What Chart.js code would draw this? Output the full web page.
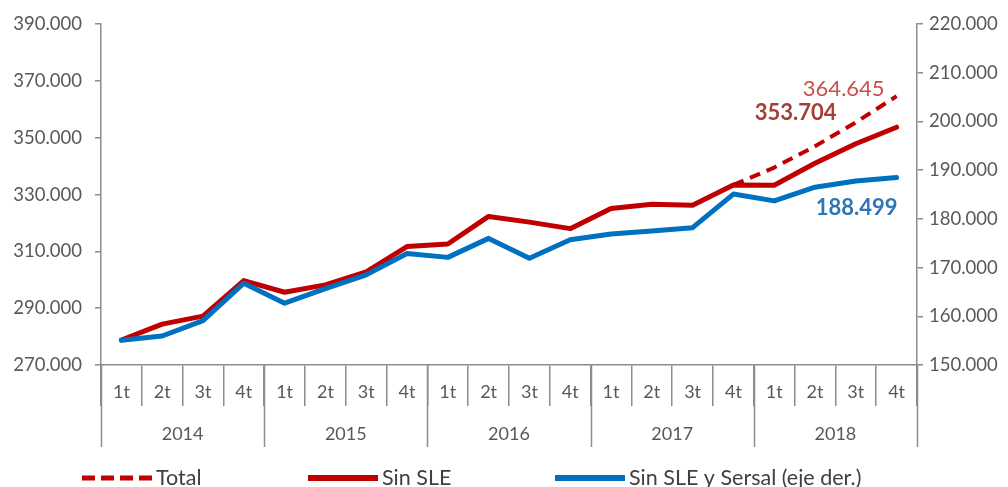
<!DOCTYPE html>
<html>
<head>
<meta charset="utf-8">
<script src="https://cdn.jsdelivr.net/npm/chart.js@4.4.1/dist/chart.umd.min.js"></script>
<style>
  html, body { margin: 0; padding: 0; background: #fff; }
  canvas { display: block; }
</style>
</head>
<body>
<canvas id="chart" width="1008" height="487"></canvas>
<script>
// data
const years = ['2014', '2015', '2016', '2017', '2018'];
const quarters = ['1t', '2t', '3t', '4t'];
const categories = years.flatMap(y => quarters.map(q => q + ' ' + y));

const sinSLE = [278800, 284400, 287200, 299700, 295600, 298200, 302800, 311700,
	312600, 322300, 320300, 318000, 325100, 326600, 326200, 333400,
	333300, 341000, 347900, 353704];
const total = [null, null, null, null, null, null, null, null,
	null, null, null, null, null, null, null, 333400,
	339500, 347000, 355400, 364645];
const sinSLESersal = [155100, 155950, 159100, 166800, 162700, 165700, 168500, 172900,
	172100, 176000, 171900, 175700, 176900, 177500, 178200, 185100,
	183700, 186500, 187800, 188499];

const leftTicks = { min: 270000, max: 390000, step: 20000 };
const rightTicks = { min: 150000, max: 220000, step: 10000 };

const RED = '#C00000';
const BLUE = '#0070C0';
const AXIS = '#8C8C8C';
const TICK_TEXT = '#595959';

Chart.defaults.font.family = 'Lato';

function fmt(v) {
	return String(v).replace(/\B(?=(\d{3})+(?!\d))/g, '.');
}

// quarter / year labels under the x axis + year separators
const categoryAxis = {
	id: 'categoryAxis',
	afterDraw(chart) {
		const ctx = chart.ctx;
		const x = chart.scales.x;
		const area = chart.chartArea;
		const band = (area.right - area.left) / categories.length;
		ctx.save();
		ctx.fillStyle = TICK_TEXT;
		ctx.textAlign = 'center';
		ctx.textBaseline = 'middle';
		ctx.font = '18px Lato';
		categories.forEach((c, i) => {
			ctx.fillText(quarters[i % 4], x.getPixelForValue(i), area.bottom + 27);
		});
		ctx.strokeStyle = AXIS;
		ctx.lineWidth = 1.5;
		years.forEach((y, k) => {
			const a = x.getPixelForValue(k * 4);
			const b = x.getPixelForValue(k * 4 + 3);
			ctx.fillText(y, (a + b) / 2, area.bottom + 69);
			const edge = Math.round(a - band / 2) + 0.5;
			ctx.beginPath();
			ctx.moveTo(edge, area.bottom);
			ctx.lineTo(edge, area.bottom + 82);
			ctx.stroke();
		});
		const last = Math.round(area.right) + 0.5;
		ctx.beginPath();
		ctx.moveTo(last, area.bottom);
		ctx.lineTo(last, area.bottom + 82);
		ctx.stroke();
		ctx.restore();
	}
};

// end-of-series value labels
const endLabels = {
	id: 'endLabels',
	afterDatasetsDraw(chart) {
		const ctx = chart.ctx;
		const n = categories.length - 1;
		const pTotal = chart.getDatasetMeta(1).data[n];
		const pSin = chart.getDatasetMeta(0).data[n];
		const pSer = chart.getDatasetMeta(2).data[n];
		ctx.save();
		ctx.textAlign = 'right';
		ctx.textBaseline = 'middle';
		ctx.font = '22px Lato';
		ctx.fillStyle = '#C9504B';
		ctx.fillText(fmt(total[n]), pTotal.x - 12, pTotal.y - 7);
		ctx.font = 'bold 22px Lato';
		ctx.fillStyle = '#A53F36';
		ctx.fillText(fmt(sinSLE[n]), pSin.x - 60, pSin.y - 14);
		ctx.fillStyle = '#2E75B6';
		ctx.fillText(fmt(sinSLESersal[n]), pSer.x + 1, pSer.y + 30);
		ctx.restore();
	}
};

// legend row at the bottom
const bottomLegend = {
	id: 'bottomLegend',
	afterDraw(chart) {
		const ctx = chart.ctx;
		const y = 478;
		const items = [
			{ x0: 82, x1: 152, color: RED, width: 5, dash: [13, 6], text: 'Total' },
			{ x0: 308, x1: 378, color: RED, width: 6, dash: [], text: 'Sin SLE' },
			{ x0: 555, x1: 625, color: BLUE, width: 6, dash: [], text: 'Sin SLE y Sersal (eje der.)' }
		];
		ctx.save();
		ctx.font = '21.5px Lato';
		ctx.textBaseline = 'middle';
		ctx.textAlign = 'left';
		items.forEach(it => {
			ctx.beginPath();
			ctx.setLineDash(it.dash);
			ctx.strokeStyle = it.color;
			ctx.lineWidth = it.width;
			ctx.moveTo(it.x0, y);
			ctx.lineTo(it.x1, y);
			ctx.stroke();
			ctx.setLineDash([]);
			ctx.fillStyle = '#404040';
			ctx.fillText(it.text, it.x1 + 4, y);
		});
		ctx.restore();
	}
};

new Chart(document.getElementById('chart'), {
	type: 'line',
	data: {
		labels: categories,
		datasets: [
			{
				label: 'Sin SLE',
				data: sinSLE,
				yAxisID: 'y',
				borderColor: RED,
				borderWidth: 5,
				order: 2
			},
			{
				label: 'Total',
				data: total,
				yAxisID: 'y',
				borderColor: RED,
				borderWidth: 4,
				borderDash: [11, 7],
				borderCapStyle: 'butt',
				order: 1
			},
			{
				label: 'Sin SLE y Sersal (eje der.)',
				data: sinSLESersal,
				yAxisID: 'y1',
				borderColor: BLUE,
				borderWidth: 5,
				order: 0
			}
		]
	},
	options: {
		responsive: false,
		animation: false,
		layout: { padding: { top: 24, left: 0, right: 0, bottom: 0 } },
		elements: {
			point: { radius: 0, hoverRadius: 0 },
			line: { tension: 0, borderJoinStyle: 'round', borderCapStyle: 'round', fill: false }
		},
		plugins: {
			legend: { display: false },
			tooltip: { enabled: false }
		},
		scales: {
			x: {
				type: 'category',
				offset: true,
				afterFit(scale) { scale.height = 122; },
				border: { display: true, color: AXIS, width: 1.5 },
				grid: {
					offset: true,
					drawOnChartArea: false,
					drawTicks: true,
					tickLength: 41,
					color: AXIS,
					lineWidth: 1.5
				},
				ticks: { display: false }
			},
			y: {
				position: 'left',
				min: leftTicks.min,
				max: leftTicks.max,
				afterFit(scale) { scale.width = 101; },
				border: { display: true, color: AXIS, width: 1.5 },
				grid: { drawOnChartArea: false, tickLength: 6, color: AXIS, lineWidth: 1.5 },
				ticks: {
					stepSize: leftTicks.step,
					padding: 13,
					color: TICK_TEXT,
					font: { size: 18.5 },
					callback: v => fmt(v)
				}
			},
			y1: {
				position: 'right',
				min: rightTicks.min,
				max: rightTicks.max,
				afterFit(scale) { scale.width = 91; },
				border: { display: true, color: AXIS, width: 1.5 },
				grid: { drawOnChartArea: false, tickLength: 6, color: AXIS, lineWidth: 1.5 },
				ticks: {
					stepSize: rightTicks.step,
					padding: 6,
					color: TICK_TEXT,
					font: { size: 18.5 },
					callback: v => fmt(v)
				}
			}
		}
	},
	plugins: [categoryAxis, endLabels, bottomLegend]
});
</script>
</body>
</html>
